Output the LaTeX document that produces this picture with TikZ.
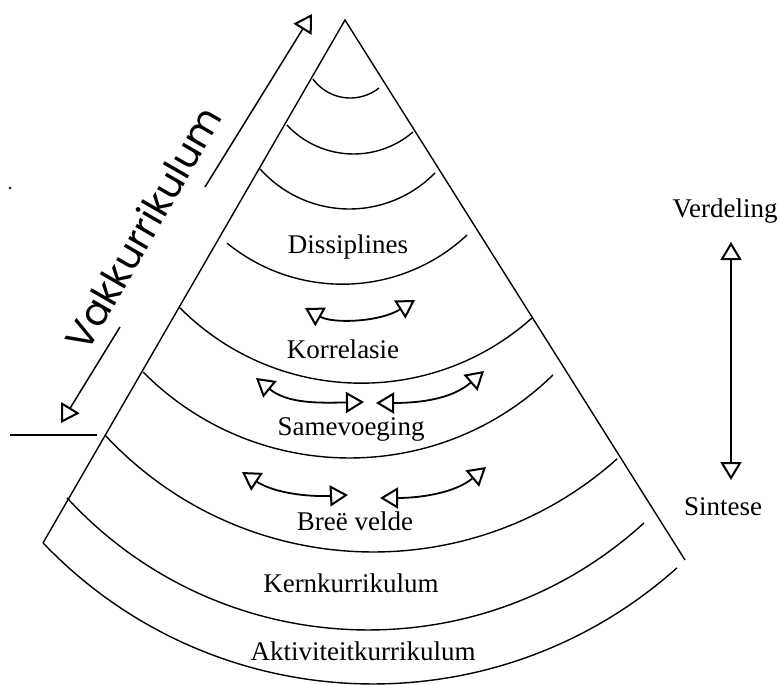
\documentclass[tikz,border=0pt]{standalone}
\usepackage{fontspec}
\setmainfont{Liberation Serif}
\newfontfamily\vakfont{Poppins}
\usetikzlibrary{arrows.meta}
\begin{document}
\begin{tikzpicture}[x=1pt,y=-1pt,
  edge/.style={line width=1.4pt, line join=miter},
  band/.style={line width=1.4pt},
  lbl/.style={font=\fontsize{27}{30}\selectfont, anchor=base, inner sep=0pt},
  headed/.style={line width=1.5pt, -{Triangle[open,length=18pt,width=21pt,line width=2pt]}},
  twohead/.style={line width=1.8pt, {Triangle[open,length=18pt,width=21pt,line width=2pt]}-{Triangle[open,length=18pt,width=21pt,line width=2pt]}}]
\useasboundingbox (0,0) rectangle (780,685);

% sides of the sector
\coordinate (apex) at (345,20);
\coordinate (lc) at (43,543);
\coordinate (rc) at (685,560);
\draw[edge] (lc) -- (apex) -- (rc);

% bands: centre x / centre y / start angle / end angle / radius
\foreach \cx/\cy/\a/\b/\r in {
  350.3/51.8/143.9/51.6/46.2,
  353.6/62.8/137.0/49.4/91.2,
  349.4/89.4/138.3/44.3/119.6,
  342.4/101.7/129.2/46.9/182.5,
  361.3/127.2/135.1/48.2/256,
  349.5/167.2/135.2/45.6/290.8,
  373.2/186/137.1/48.2/366,
  368.1/220.9/137.4/47.6/409.1,
  372.9/227.8/136.3/48.2/456.2}
  \draw[band] (\cx,\cy) ++(\a:\r) arc[start angle=\a, end angle=\b, radius=\r];

% band labels
\node[lbl] (dis) at (348,253) {Dissiplines};
\node[lbl] (kor) at (343,358) {Korrelasie};
\node[lbl] (sam) at (351,435) {Samevoeging};
\node[lbl] (bre) at (355,530) {Breë velde};
\node[lbl] (ker) at (351,592) {Kernkurrikulum};
\node[lbl] (akt) at (363,660) {Aktiviteitkurrikulum};

% curved two-way arrows inside the bands
\coordinate (k1) at (305,308); \coordinate (k2) at (415,300);
\draw[twohead] (k1) .. controls (333,324) and (380,322) .. (k2);
\coordinate (s1) at (256,378); \coordinate (s2) at (364,402);
\draw[twohead] (s1) .. controls (288,404) and (320,403) .. (s2);
\coordinate (s3) at (376,403); \coordinate (s4) at (484,371);
\draw[twohead] (s3) .. controls (420,403) and (452,399) .. (s4);
\coordinate (b1) at (242,472); \coordinate (b2) at (348,495);
\draw[twohead] (b1) .. controls (274,493) and (308,497) .. (b2);
\coordinate (b3) at (380,498); \coordinate (b4) at (486,467);
\draw[twohead] (b3) .. controls (420,498) and (455,493) .. (b4);

% Verdeling / Sintese scale
\node[lbl] (ver) at (725,217) {Verdeling};
\node[lbl] (sin) at (723,515) {Sintese};
\coordinate (v1) at (731,242); \coordinate (v2) at (731,480);
\draw[twohead] (v1) -- (v2);

% Vakkurrikulum dimension arrow
\node[font=\vakfont\fontsize{38.5}{42}\selectfont, rotate=60, inner sep=0pt] (vak) at (143,228) {Vakkurrikulum};
\coordinate (vu) at (205,187); \coordinate (vt) at (312,14);
\coordinate (vl) at (120,327); \coordinate (vb) at (61,423);
\draw[headed] (vu) -- (vt);
\draw[headed] (vl) -- (vb);

% divider on the left
\coordinate (h1) at (10,435); \coordinate (h2) at (97,435);
\draw[band] (h1) -- (h2);
\fill (10,188) circle (1.3);
\end{tikzpicture}
\end{document}
